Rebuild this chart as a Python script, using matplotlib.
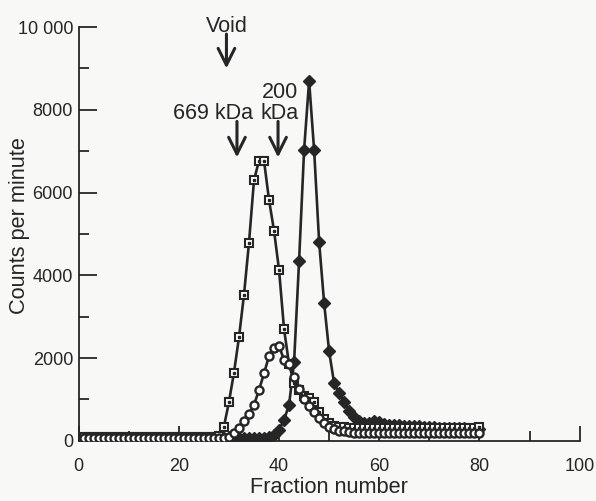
import matplotlib.pyplot as plt
from matplotlib.ticker import FixedLocator

plt.rcParams['font.family'] = ['Liberation Sans', 'DejaVu Sans']

fraction = list(range(1, 81))

# 669 kDa run, squares
cpm_squares = [90, 90, 90, 90, 90, 90, 90, 90, 90, 90,
               90, 90, 90, 90, 90, 90, 90, 90, 90, 90,
               90, 90, 90, 90, 90, 90, 100, 130, 345, 940,
               1650, 2500, 3530, 4790, 6300, 6770, 6770, 5820, 5080, 4130,
               2700, 1850, 1400, 1220, 1080, 1030, 950, 700, 520, 420,
               370, 340, 330, 320, 320, 320, 320, 320, 320, 320,
               320, 320, 320, 320, 320, 320, 320, 320, 320, 320,
               320, 320, 320, 320, 320, 320, 320, 320, 320, 330]

# 200 kDa run, open circles
cpm_circles = [80, 80, 80, 80, 80, 80, 80, 80, 80, 80,
               80, 80, 80, 80, 80, 80, 80, 80, 80, 80,
               80, 80, 80, 80, 80, 80, 80, 80, 80, 100,
               180, 320, 480, 650, 870, 1230, 1630, 2050, 2250, 2300,
               1950, 1850, 1550, 1250, 1000, 850, 700, 550, 430, 340,
               280, 250, 230, 210, 200, 190, 190, 180, 180, 180,
               180, 180, 180, 180, 180, 180, 180, 180, 180, 180,
               180, 180, 180, 180, 180, 180, 180, 180, 180, 180]

# filled diamonds
cpm_diamonds = [60, 60, 60, 60, 60, 60, 60, 60, 60, 60,
                60, 60, 60, 60, 60, 60, 60, 60, 60, 60,
                60, 60, 60, 60, 60, 60, 60, 60, 60, 60,
                60, 60, 60, 60, 60, 60, 70, 90, 150, 265,
                510, 870, 1900, 4350, 7030, 8700, 7030, 4810, 3330, 2160,
                1390, 1150, 950, 720, 580, 480, 430, 430, 470, 450,
                400, 390, 380, 380, 370, 360, 350, 350, 340, 330,
                330, 320, 320, 310, 310, 300, 300, 290, 290, 280]

yticks = [0, 2000, 4000, 6000, 8000, 10000]
yticklabels = ['0', '2000', '4000', '6000', '8000', '10 000']
xticks = [0, 20, 40, 60, 80, 100]

ink = '#262626'

fig = plt.figure(figsize=(5.96, 5.01), dpi=100)
fig.patch.set_facecolor('#f8f8f6')
ax = fig.add_axes([0.132, 0.12, 0.8405, 0.826])
ax.set_facecolor('#f8f8f6')

ax.plot(fraction, cpm_squares, color=ink, lw=1.9, marker='s', ms=6,
        mfc='white', mec=ink, mew=1.5, zorder=3)
ax.plot(fraction, cpm_squares, ls='none', marker='s', ms=1.7,
        mfc=ink, mec=ink, zorder=4)
ax.plot(fraction, cpm_circles, color=ink, lw=1.9, marker='o', ms=5.8,
        mfc='white', mec=ink, mew=1.7, zorder=5)
ax.plot(fraction, cpm_diamonds, color=ink, lw=1.9, marker='D', ms=6.2,
        mfc=ink, mec=ink, zorder=2)

ax.set_xlim(0, 100)
ax.set_ylim(0, 10000)
ax.set_xticks(xticks)
ax.xaxis.set_minor_locator(FixedLocator([10, 30, 50, 70, 90]))
ax.set_yticks(yticks)
ax.set_yticklabels(yticklabels)
ax.yaxis.set_minor_locator(FixedLocator([1000, 3000, 5000, 7000, 9000]))

for side in ['top', 'right']:
    ax.spines[side].set_visible(False)
for side in ['left', 'bottom']:
    ax.spines[side].set_color(ink)
    ax.spines[side].set_linewidth(1.3)

ax.tick_params(axis='y', which='major', direction='in', length=13, width=1.3,
               color=ink, labelsize=13, labelcolor=ink, pad=4)
ax.tick_params(axis='y', which='minor', direction='in', length=7, width=1.3, color=ink)
ax.tick_params(axis='x', which='major', direction='in', length=11, width=1.3,
               color=ink, labelsize=13, labelcolor=ink, pad=12)
ax.tick_params(axis='x', which='minor', direction='in', length=7, width=1.3, color=ink)

ax.set_xlabel('Fraction number', fontsize=15.7, color=ink, labelpad=2)
ax.set_ylabel('Counts per minute', fontsize=15.7, color=ink)
ax.yaxis.set_label_coords(-0.097, 0.52)

arrow = dict(arrowstyle='->, head_length=1.2, head_width=0.6', color=ink, lw=2.2,
             shrinkA=0, shrinkB=0)
ax.annotate('', xy=(29.5, 9000), xytext=(29.5, 9830), arrowprops=arrow,
            annotation_clip=False)
ax.text(29.5, 9870, 'Void', ha='center', va='baseline', fontsize=15.5, color=ink,
        clip_on=False)
ax.annotate('', xy=(31.6, 6850), xytext=(31.6, 7720), arrowprops=arrow)
ax.text(26.8, 7920, '669 kDa', ha='center', va='center', fontsize=15.5, color=ink)
ax.annotate('', xy=(39.8, 6850), xytext=(39.8, 7720), arrowprops=arrow)
ax.text(40.2, 7920, 'kDa', ha='center', va='center', fontsize=15.5, color=ink)
ax.text(40.2, 8420, '200', ha='center', va='center', fontsize=15.5, color=ink)

fig.savefig('out.png', dpi=100, facecolor=fig.get_facecolor())
